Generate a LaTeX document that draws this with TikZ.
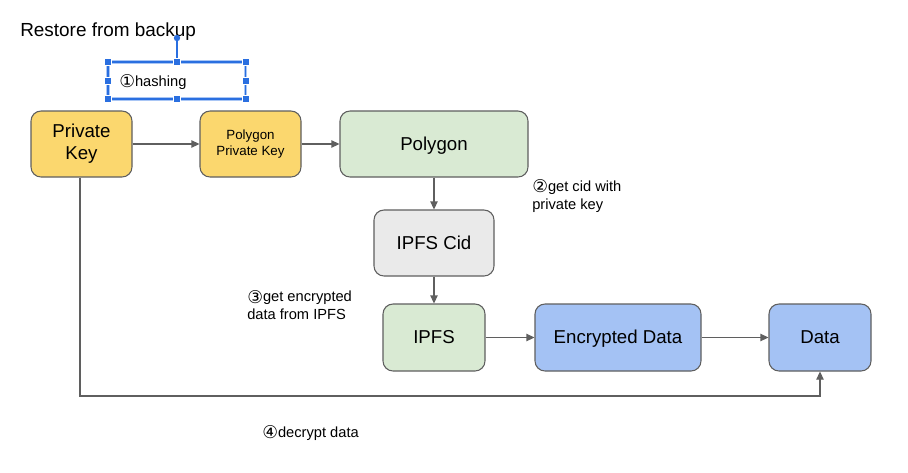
\documentclass[tikz,border=0pt]{standalone}
\usepackage{fontspec}
\setmainfont{Liberation Sans}
\newfontfamily\dejavu{DejaVu Sans}
\usetikzlibrary{arrows.meta,calc}
\definecolor{cyellow}{HTML}{FBD76E}
\definecolor{cgreen}{HTML}{D9EAD3}
\definecolor{cgray}{HTML}{EAEAEA}
\definecolor{cblue}{HTML}{A4C2F4}
\definecolor{cline}{HTML}{5F5F5F}
\definecolor{selblue}{HTML}{2A6FE0}
\definecolor{selglow}{HTML}{A9C6F5}
\newcommand{\circnum}[1]{\raisebox{-0.12em}{\scalebox{1.2}{\dejavu #1}}}
\newcommand{\gstrut}{\rule[-0.212em]{0pt}{1.117em}}
\tikzset{
  box/.style={draw=cline, line width=0.8pt, rounded corners=7.5pt, align=center, inner sep=0pt,
    font=\fontsize{14}{16.5}\selectfont,
    execute at begin node=\gstrut, execute at end node=\gstrut},
  arr/.style={draw=cline, line width=0.8pt, -{Triangle[length=6pt,width=5.5pt]}},
  note/.style={anchor=west, align=left, inner sep=0pt, font=\fontsize{11}{13.5}\selectfont},
  handle/.style={fill=selblue, draw=white, line width=0.3pt, minimum size=5pt, inner sep=0pt, rectangle},
}
\begin{document}
\begin{tikzpicture}[x=0.75pt,y=-0.75pt]
\useasboundingbox (0,0) rectangle (908,472);
\fill[white] (0,0) rectangle (908,472);

% title
\node[anchor=base west, inner sep=0pt, font=\fontsize{14.2}{16}\selectfont] (title) at (20,36) {Restore from backup};

% selection box around hashing label
\draw[selglow, line width=2.6pt] (108,62) rectangle (245.5,99);
\draw[selblue, line width=0.9pt] (108,62) rectangle (245.5,99);
\coordinate (rot) at (177,38);
\draw[selblue, line width=0.9pt] (rot) -- (177,62);
\fill[selblue] (rot) circle (3.2);
\foreach \hx/\hy in {108/62,177/62,245.5/62,108/80.5,245.5/80.5,108/99,177/99,245.5/99}
  \node[handle] at (\hx,\hy) {};
\node[anchor=base west, inner sep=0pt, font=\fontsize{11}{12}\selectfont] (n1) at (119,86) {\circnum{①}hashing};

% nodes
\node[box, fill=cyellow, minimum width=75.75pt, minimum height=49.5pt] (pk) at (81.5,144) {Private\\Key};
\node[box, fill=cyellow, minimum width=75.75pt, minimum height=49.5pt, font=\fontsize{10}{12}\selectfont] (ppk) at (250.5,144) {Polygon\\Private Key};
\node[box, fill=cgreen, minimum width=141pt, minimum height=49.5pt] (poly) at (434,144) {Polygon};
\node[box, fill=cgray, minimum width=90pt, minimum height=49.5pt] (cid) at (434,243) {IPFS Cid};
\node[box, fill=cgreen, minimum width=76.5pt, minimum height=50.25pt] (ipfs) at (434,337.5) {IPFS};
\node[box, fill=cblue, minimum width=124.5pt, minimum height=50.25pt] (enc) at (618,337.5) {Encrypted Data};
\node[box, fill=cblue, minimum width=76.5pt, minimum height=50.25pt] (data) at (820,337.5) {Data};

% notes
\node[note] (n2) at (532,196) {\circnum{②}get cid with\\private key};
\node[note] (n3) at (247,305) {\circnum{③}get encrypted\\data from IPFS};
\node[anchor=base west, inner sep=0pt, font=\fontsize{11}{12}\selectfont] (n4) at (262,437) {\circnum{④}decrypt data};

% connectors
\draw[arr] (pk) -- (ppk);
\draw[arr] (ppk) -- (poly);
\draw[arr] (poly) -- (cid);
\draw[arr] (cid) -- (ipfs);
\draw[arr] (ipfs) -- (enc);
\draw[arr] (enc) -- (data);
\coordinate (low) at (80,396);
\draw[arr] (pk.south -| low) -- (low) -| (data.south);
\end{tikzpicture}
\end{document}
